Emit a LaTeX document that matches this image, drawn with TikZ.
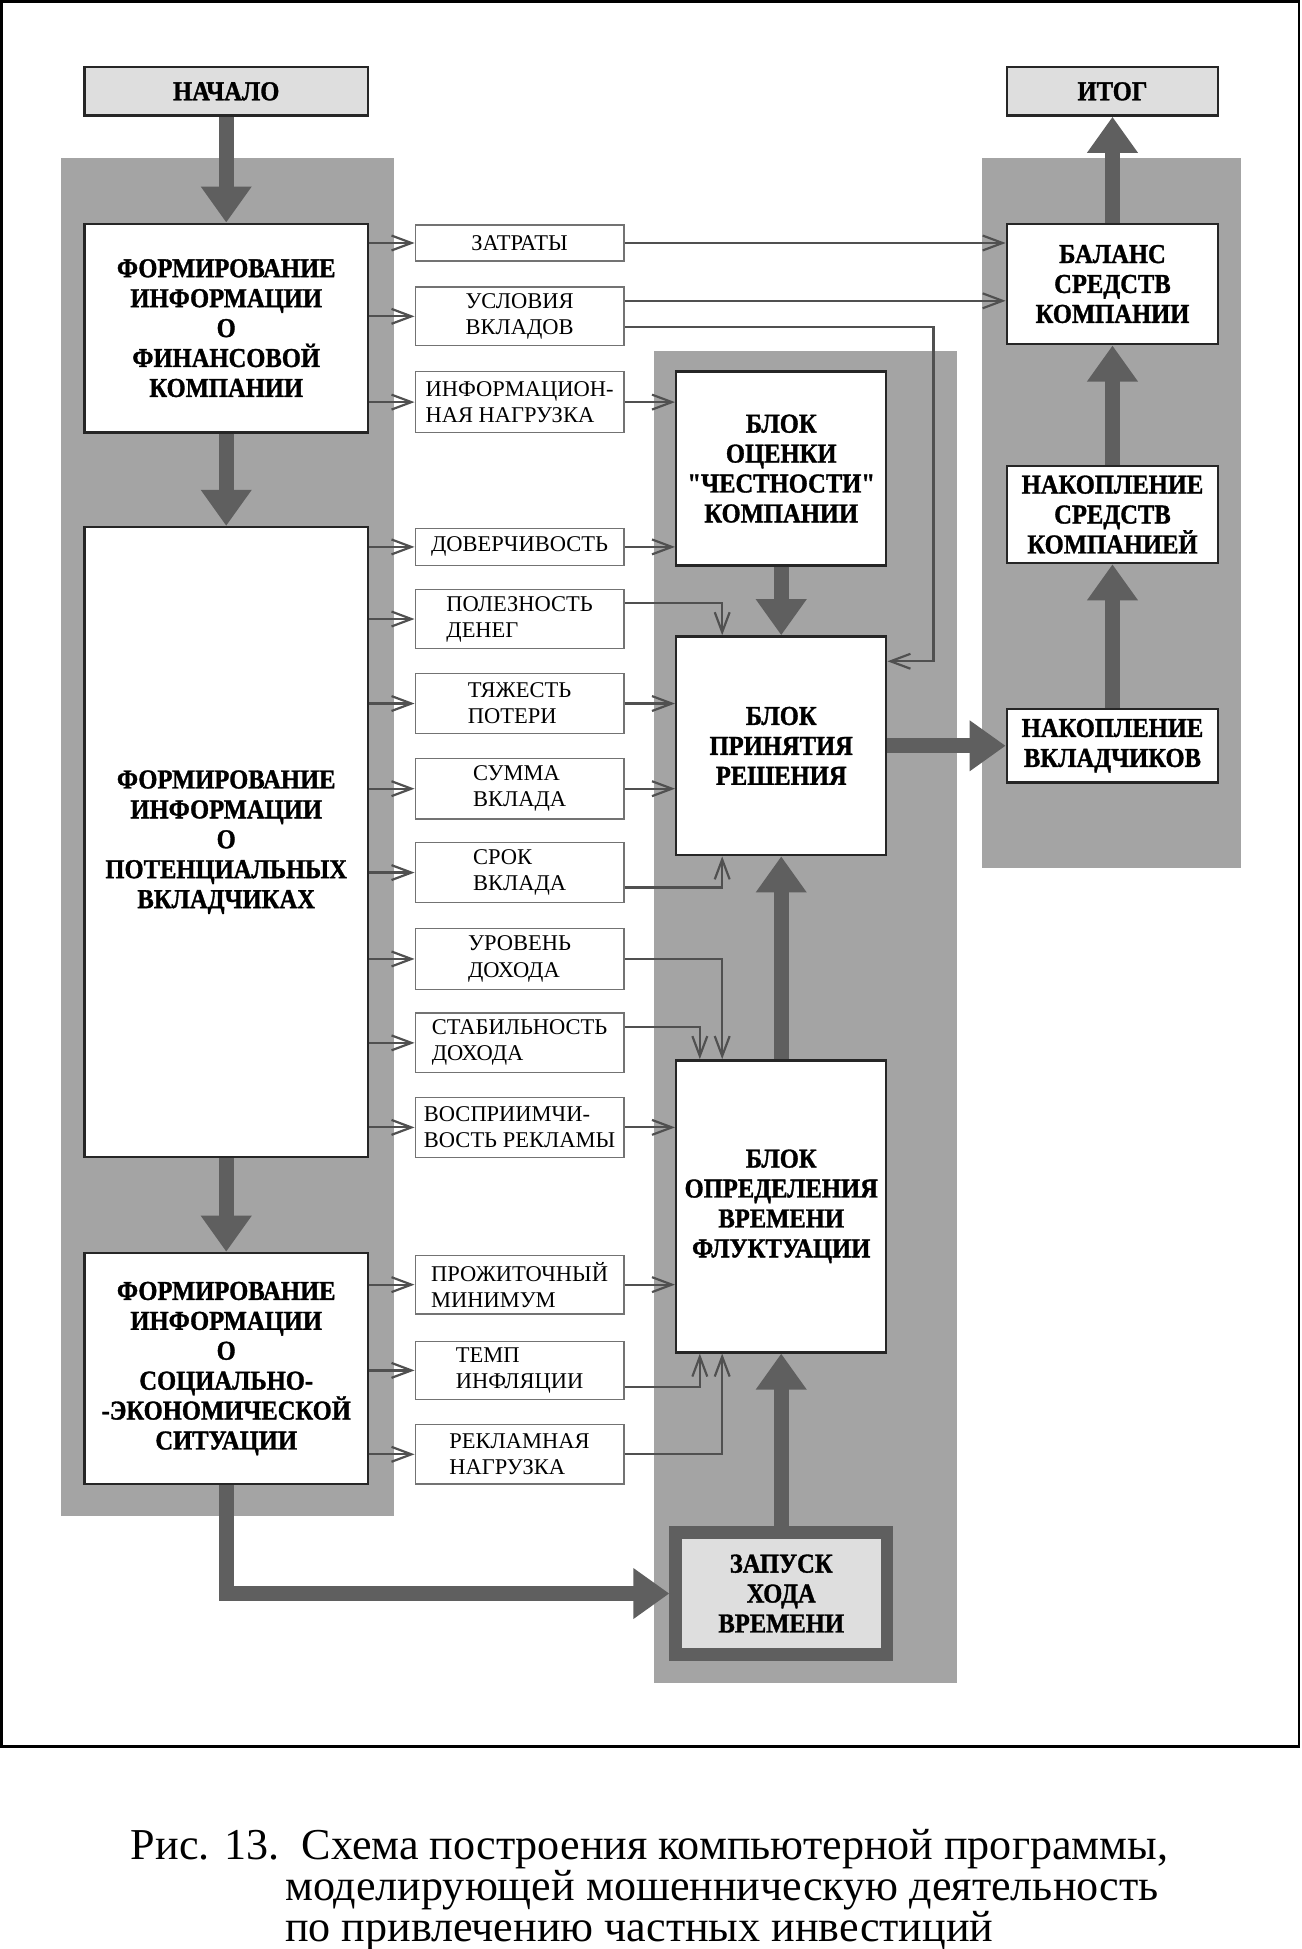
\documentclass[tikz,border=0pt]{standalone}
\usepackage{fontspec}
\setmainfont{Liberation Serif}
\newfontfamily\blockfont{Liberation Serif}[FakeStretch=0.9, FakeBold=1.2]
\usetikzlibrary{arrows.meta}
\definecolor{panelgray}{HTML}{A4A4A4}
\definecolor{arrowgray}{HTML}{5F5F5F}
\definecolor{headgray}{HTML}{DEDEDE}
\definecolor{linegray}{HTML}{505050}
\begin{document}
\begin{tikzpicture}[x=0.02cm, y=-0.02cm, line join=miter, font=\fontsize{10.3}{11.95}\selectfont]
	\tikzset{block style/.style={draw=black!85, line width=1.1pt, fill=white, inner sep=0pt, align=center, font=\blockfont\bfseries\fontsize{12.5}{13.7}\selectfont},
		end style/.style={block style, fill=headgray},
		factor style/.style={draw=black!55, line width=0.6pt, fill=white, inner sep=0pt, align=left, minimum width=3.36cm},
		panel style/.style={fill=panelgray},
		caption style/.style={inner sep=0pt, anchor=base west, font=\fontsize{20.2}{20}\selectfont},
		flow/.style={draw=arrowgray, line width=0.24cm, -{Triangle[width=0.78cm, length=0.58cm]}},
		link/.style={draw=linegray, line width=1pt, -{Straight Barb[length=0.32cm, width=0.24cm]}}}
	\useasboundingbox (0,0) rectangle (1047,1568);
	\draw[line width=1.3pt] (1,1) rectangle (1045,1405);
	% gray panels
	\fill[panel style] (49,127) rectangle (317,1220);
	\fill[panel style] (526,282) rectangle (770,1354);
	\fill[panel style] (790,127) rectangle (998,698);
	% left column
	\node[end style, minimum width=4.56cm, minimum height=0.78cm] (start) at (182,73.5) {НАЧАЛО};
	\node[block style, minimum width=4.56cm, minimum height=3.36cm] (firm) at (182,264) {ФОРМИРОВАНИЕ\\ИНФОРМАЦИИ\\О\\ФИНАНСОВОЙ\\КОМПАНИИ};
	\node[block style, minimum width=4.56cm, minimum height=10.14cm] (inv) at (182,677.5) {ФОРМИРОВАНИЕ\\ИНФОРМАЦИИ\\О\\ПОТЕНЦИАЛЬНЫХ\\ВКЛАДЧИКАХ};
	\node[block style, minimum width=4.56cm, minimum height=3.72cm] (soc) at (182,1101) {ФОРМИРОВАНИЕ\\ИНФОРМАЦИИ\\О\\СОЦИАЛЬНО-\\-ЭКОНОМИЧЕСКОЙ\\СИТУАЦИИ};
	% factors
	\node[factor style, minimum height=0.58cm] (cost) at (418,195.5) {ЗАТРАТЫ};
	\node[factor style, minimum height=0.94cm] (terms) at (418,254.5) {УСЛОВИЯ\\ВКЛАДОВ};
	\node[factor style, minimum height=0.98cm] (infload) at (418,323.5) {ИНФОРМАЦИОН-\\НАЯ НАГРУЗКА};
	\node[factor style, minimum height=0.6cm] (trust) at (418,440) {ДОВЕРЧИВОСТЬ};
	\node[factor style, minimum height=0.96cm] (util) at (418,498) {ПОЛЕЗНОСТЬ\\ДЕНЕГ};
	\node[factor style, minimum height=0.96cm] (loss) at (418,566) {ТЯЖЕСТЬ\\ПОТЕРИ};
	\node[factor style, minimum height=0.98cm] (sum) at (418,634.5) {СУММА\\ВКЛАДА};
	\node[factor style, minimum height=0.96cm] (term) at (418,702) {СРОК\\ВКЛАДА};
	\node[factor style, minimum height=0.98cm] (income) at (418,771.5) {УРОВЕНЬ\\ДОХОДА};
	\node[factor style, minimum height=0.96cm] (stab) at (418,839) {СТАБИЛЬНОСТЬ\\ДОХОДА};
	\node[factor style, minimum height=0.96cm] (recept) at (418,907) {ВОСПРИИМЧИ-\\ВОСТЬ РЕКЛАМЫ};
	\node[factor style, minimum height=0.94cm] (minw) at (418,1033.5) {ПРОЖИТОЧНЫЙ\\МИНИМУМ};
	\node[factor style, minimum height=0.94cm] (infl) at (418,1102.5) {ТЕМП\\ИНФЛЯЦИИ};
	\node[factor style, minimum height=0.96cm] (adload) at (418,1170) {РЕКЛАМНАЯ\\НАГРУЗКА};
	% middle column
	\node[block style, minimum width=3.38cm, minimum height=3.12cm] (honest) at (628.5,377) {БЛОК\\ОЦЕНКИ\\"ЧЕСТНОСТИ"\\КОМПАНИИ};
	\node[block style, minimum width=3.38cm, minimum height=3.52cm] (decide) at (628.5,600) {БЛОК\\ПРИНЯТИЯ\\РЕШЕНИЯ};
	\node[block style, minimum width=3.38cm, minimum height=4.7cm] (fluct) at (628.5,970.5) {БЛОК\\ОПРЕДЕЛЕНИЯ\\ВРЕМЕНИ\\ФЛУКТУАЦИИ};
	\node[block style, draw=arrowgray, line width=0.2cm, fill=headgray, minimum width=3.4cm, minimum height=1.96cm] (launch) at (628.5,1282) {ЗАПУСК\\ХОДА\\ВРЕМЕНИ};
	% right column
	\node[end style, minimum width=3.4cm, minimum height=0.78cm] (finish) at (895,73.5) {ИТОГ};
	\node[block style, minimum width=3.4cm, minimum height=1.94cm] (balance) at (895,228.5) {БАЛАНС\\СРЕДСТВ\\КОМПАНИИ};
	\node[block style, minimum width=3.4cm, minimum height=1.56cm] (accum) at (895,414) {НАКОПЛЕНИЕ\\СРЕДСТВ\\КОМПАНИЕЙ};
	\node[block style, minimum width=3.4cm, minimum height=1.18cm] (depos) at (895,600) {НАКОПЛЕНИЕ\\ВКЛАДЧИКОВ};
	% thick flow
	\draw[flow] (start) -- (firm);
	\draw[flow] (firm) -- (inv);
	\draw[flow] (inv) -- (soc);
	\draw[flow] (soc.south) |- (launch.west);
	\draw[flow] (launch) -- (fluct);
	\draw[flow] (fluct) -- (decide);
	\draw[flow] (honest) -- (decide);
	\draw[flow] (decide) -- (depos);
	\draw[flow] (depos) -- (accum);
	\draw[flow] (accum) -- (balance);
	\draw[flow] (balance) -- (finish);
	% thin links
	\foreach \b in {cost,terms,infload}
		\draw[link] (\b.west -| firm.east) -- (\b.west);
	\foreach \b in {trust,util,loss,sum,term,income,stab,recept}
		\draw[link] (\b.west -| inv.east) -- (\b.west);
	\foreach \b in {minw,infl,adload}
		\draw[link] (\b.west -| soc.east) -- (\b.west);
	\coordinate (tup) at ([yshift=0.25cm]terms.east);
	\coordinate (tlow) at ([yshift=-0.17cm]terms.east);
	\coordinate (bus) at (751,532);
	\draw[link] (cost.east) -- (cost.east -| balance.west);
	\draw[link] (tup) -- (tup -| balance.west);
	\draw[link] (tlow) -| (bus) -- (bus -| decide.east);
	\draw[link] (infload.east) -- (infload.east -| honest.west);
	\draw[link] (trust.east) -- (trust.east -| honest.west);
	\draw[link] ([yshift=0.26cm]util.east) -| ([xshift=-0.95cm]decide.north);
	\draw[link] (loss.east) -- (loss.east -| decide.west);
	\draw[link] (sum.east) -- (sum.east -| decide.west);
	\draw[link] ([yshift=-0.24cm]term.east) -| ([xshift=-0.95cm]decide.south);
	\draw[link] (income.east) -| ([xshift=-0.95cm]fluct.north);
	\draw[link] ([yshift=0.26cm]stab.east) -| ([xshift=-1.31cm]fluct.north);
	\draw[link] (recept.east) -- (recept.east -| fluct.west);
	\draw[link] (minw.east) -- (minw.east -| fluct.west);
	\draw[link] ([yshift=-0.27cm]infl.east) -| ([xshift=-1.31cm]fluct.south);
	\draw[link] (adload.east) -| ([xshift=-0.95cm]fluct.south);
	% caption
	\node[caption style] (cap1) at (105,1496) {Рис. 13.\ \ Схема построения компьютерной программы,};
	\node[caption style] (cap2) at (229,1529) {моделирующей мошенническую деятельность};
	\node[caption style] (cap3) at (229,1562) {по привлечению частных инвестиций};
\end{tikzpicture}
\end{document}
